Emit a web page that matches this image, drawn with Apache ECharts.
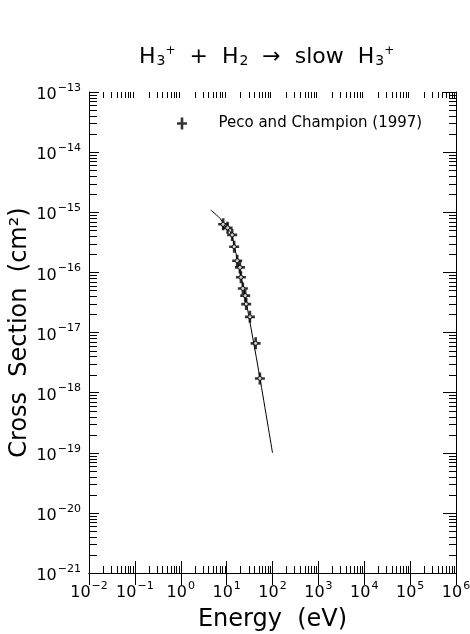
<!DOCTYPE html>
<html>
<head>
<meta charset="utf-8">
<script src="https://cdn.jsdelivr.net/npm/echarts@6/dist/echarts.min.js"></script>
<style>
html,body{margin:0;padding:0;background:#fff;}
#chart{width:470px;height:634px;}
</style>
</head>
<body>
<div id="chart"></div>
<script>
// Measured points: Peco and Champion (1997)
const energy = [8.4, 10.5, 13.2, 14.6, 17.0, 19.5, 20.5, 22.6, 25.4, 26.7, 32.2, 42.9, 53.1];
const crossSection = [6.3e-16, 5.5e-16, 4.2e-16, 2.67e-16, 1.56e-16, 1.21e-16, 8.3e-17, 5.4e-17, 4.1e-17, 2.97e-17, 1.82e-17, 6.6e-18, 1.72e-18];
// Fitted curve
const fitEnergy = [4.5, 6, 7.2, 8.7, 10.5, 12, 13, 15, 17, 20, 25, 30, 50, 100];
const fitCrossSection = [1.09e-15, 9.0e-16, 7.9e-16, 6.3e-16, 5.3e-16, 4.7e-16, 4.1e-16, 2.6e-16, 1.65e-16, 9.5e-17, 4.2e-17, 2.0e-17, 2.3e-18, 1.0e-19];
// Axis decades (tick label exponents)
const xDecades = [-2, -1, 0, 1, 2, 3, 4, 5, 6];
const yDecades = [-21, -20, -19, -18, -17, -16, -15, -14, -13];
const minorMultipliers = [2, 3, 4, 5, 6, 7, 8, 9];
const legendName = 'Peco and Champion (1997)';

const FONT = 'DejaVu Sans';

// minor ticks (side: 0 bottom, 1 top, 2 left, 3 right)
const tickData = [];
for (let i = 0; i < xDecades.length - 1; i++) {
  for (const m of minorMultipliers) {
    const v = Number(m + 'e' + xDecades[i]);
    tickData.push([v, 1e-17, 0, 7]);
    tickData.push([v, 1e-17, 1, 6]);
  }
}
for (let i = 0; i < yDecades.length - 1; i++) {
  for (const m of minorMultipliers) {
    const v = Number(m + 'e' + yDecades[i]);
    tickData.push([1, v, 2, 8]);
    tickData.push([1, v, 3, 7]);
  }
}

const supLabel = function (v) {
  const e = Math.round(Math.log10(v));
  return '{b|10}{s|' + (e < 0 ? '\u2212' : '') + Math.abs(e) + '}';
};
const labelRich = {
  b: { fontFamily: FONT, fontSize: 16, color: '#000', padding: [6, 0, 0, 0] },
  s: { fontFamily: FONT, fontSize: 11, color: '#000', padding: [0, 0, 8, 1] }
};

const xTickLabels = xDecades.map(e => Number('1e' + e));
const yTickLabels = yDecades.map(e => Number('1e' + e));

const plusPath = 'path://M-1.3,-6 L1.3,-6 L1.3,-1.3 L5,-1.3 L5,1.3 L1.3,1.3 L1.3,6 L-1.3,6 L-1.3,1.3 L-5,1.3 L-5,-1.3 L-1.3,-1.3 Z';

const chart = echarts.init(document.getElementById('chart'), null, { renderer: 'canvas' });
const commonX = {
  type: 'log', logBase: 10,
  min: xTickLabels[0], max: xTickLabels[xTickLabels.length - 1],
  splitNumber: 8,
  splitLine: { show: false }, minorTick: { show: false }
};
const commonY = {
  type: 'log', logBase: 10,
  min: yTickLabels[0], max: yTickLabels[yTickLabels.length - 1],
  splitNumber: 8,
  splitLine: { show: false }, minorTick: { show: false }
};
chart.setOption({
  animation: false,
  backgroundColor: '#fff',
  title: {
    text: '{n|H}{sub|3}{sup|+}{n|  +  H}{sub|2}{n|  \u2192  slow  H}{sub|3}{sup|+}',
    left: 134, top: 40,
    textStyle: {
      fontWeight: 'normal',
      rich: {
        n: { fontFamily: FONT, fontSize: 22, color: '#000', fontWeight: 'normal' },
        sub: { fontFamily: FONT, fontSize: 14, color: '#000', fontWeight: 'normal', padding: [8, 0, 0, 1] },
        sup: { fontFamily: FONT, fontSize: 12, color: '#000', fontWeight: 'normal', padding: [0, 0, 12, 0] }
      }
    }
  },
  legend: {
    data: [{ name: legendName, icon: plusPath }],
    left: 172, top: 111,
    itemWidth: 63, itemHeight: 12,
    textStyle: { fontFamily: FONT, fontSize: 15, color: '#000' }
  },
  grid: { left: 89, right: 14, top: 92, bottom: 61, containLabel: false, outerBoundsMode: 'none' },
  xAxis: [
    Object.assign({}, commonX, {
      position: 'bottom',
      name: 'Energy  (eV)', nameLocation: 'middle', nameGap: 35, nameMoveOverlap: false,
      nameTextStyle: { fontFamily: FONT, fontSize: 24, color: '#000' },
      axisLine: { show: true, lineStyle: { color: '#000', width: 1 } },
      axisTick: { show: true, inside: true, length: 12, lineStyle: { color: '#000' } },
      axisLabel: { show: true, margin: 6, formatter: supLabel, rich: labelRich, showMinLabel: true, showMaxLabel: true, hideOverlap: false }
    }),
    Object.assign({}, commonX, {
      position: 'top',
      axisLine: { show: true, lineStyle: { color: '#000', width: 1 } },
      axisTick: { show: true, inside: true, length: 12, lineStyle: { color: '#000' } },
      axisLabel: { show: false }
    })
  ],
  yAxis: [
    Object.assign({}, commonY, {
      position: 'left',
      name: 'Cross  Section  (cm\u00B2)', nameLocation: 'middle', nameGap: 57, nameRotate: 90, nameMoveOverlap: false,
      nameTextStyle: { fontFamily: FONT, fontSize: 24, color: '#000' },
      axisLine: { show: true, lineStyle: { color: '#000', width: 1 } },
      axisTick: { show: true, inside: true, length: 10, lineStyle: { color: '#000' } },
      axisLabel: { show: true, margin: 8, formatter: supLabel, rich: labelRich, customValues: yTickLabels, showMinLabel: true, showMaxLabel: true, hideOverlap: false }
    }),
    Object.assign({}, commonY, {
      position: 'right',
      axisLine: { show: true, lineStyle: { color: '#000', width: 1 } },
      axisTick: { show: true, inside: true, length: 13, lineStyle: { color: '#000' } },
      axisLabel: { show: false }
    })
  ],
  series: [
    {
      type: 'custom',
      name: 'ticks',
      silent: true,
      clip: false,
      xAxisIndex: 0, yAxisIndex: 0,
      encode: { x: 0, y: 1 },
      data: tickData,
      renderItem: function (params, api) {
        const cs = params.coordSys;
        const side = api.value(2);
        const len = api.value(3);
        const p = api.coord([api.value(0), api.value(1)]);
        let x1, y1, x2, y2;
        if (side === 0) { x1 = x2 = Math.round(p[0]) + 0.5; y1 = cs.y + cs.height; y2 = y1 - len; }
        else if (side === 1) { x1 = x2 = Math.round(p[0]) + 0.5; y1 = cs.y; y2 = y1 + len; }
        else if (side === 2) { y1 = y2 = Math.round(p[1]) + 0.5; x1 = cs.x; x2 = x1 + len; }
        else { y1 = y2 = Math.round(p[1]) + 0.5; x1 = cs.x + cs.width; x2 = x1 - len; }
        return { type: 'line', shape: { x1: x1, y1: y1, x2: x2, y2: y2 }, style: { stroke: '#000', lineWidth: 1 } };
      },
      z: 1
    },
    {
      type: 'line',
      name: 'fit',
      data: fitEnergy.map((e, i) => [e, fitCrossSection[i]]),
      smooth: 0.3,
      showSymbol: false,
      lineStyle: { color: '#000', width: 1 },
      z: 2
    },
    {
      type: 'scatter',
      name: legendName,
      data: energy.map((e, i) => [e, crossSection[i]]),
      symbol: plusPath,
      symbolSize: [10, 12],
      itemStyle: { color: '#000' },
      z: 3
    },
    {
      type: 'scatter',
      name: legendName,
      data: energy.map((e, i) => [e, crossSection[i]]),
      symbol: 'circle',
      symbolSize: 4,
      itemStyle: { color: '#fff', borderColor: '#000', borderWidth: 1 },
      z: 4
    }
  ]
});
</script>
</body>
</html>
